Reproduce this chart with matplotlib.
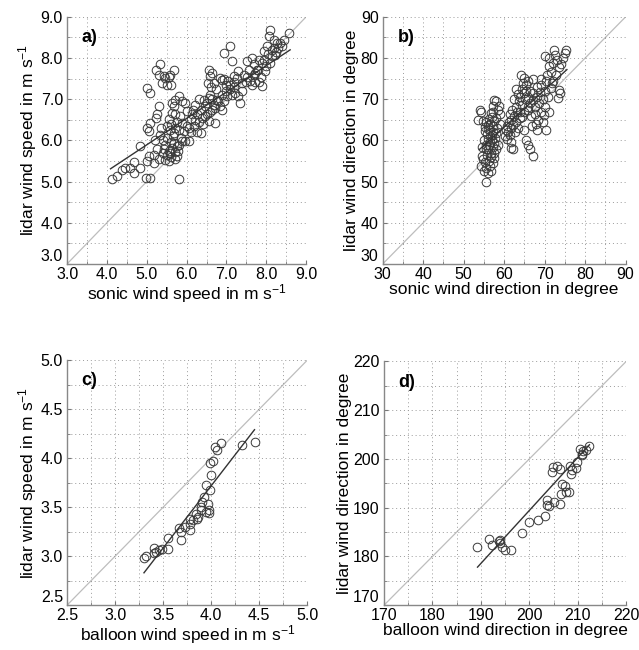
import numpy as np
import matplotlib
matplotlib.use("Agg")
import matplotlib.pyplot as plt
from matplotlib.ticker import MultipleLocator, FormatStrFormatter

plt.rcParams["font.family"] = ["Liberation Sans", "DejaVu Sans"]
plt.rcParams["mathtext.fontset"] = "custom"
plt.rcParams["mathtext.rm"] = "Liberation Sans"
plt.rcParams["mathtext.it"] = "Liberation Sans:italic"

# ── a) sonic vs lidar wind speed ────────────────────────────────────────────
a_sonic = [4.13, 4.26, 4.38, 4.46, 4.59, 4.67, 4.67, 4.84, 4.82, 4.98, 5.07, 5.01, 5.05,
           5.01, 5.07, 5.01, 5.05, 5.09, 5.18, 5.19, 5.22, 5.26, 5.30, 5.22, 5.34, 5.30,
           5.43, 5.47, 5.38, 5.51, 5.55, 5.59, 5.68, 5.62, 5.34, 5.40, 5.43, 5.47, 5.55,
           5.59, 5.64, 5.68, 5.72, 5.76, 5.80, 5.76, 5.68, 5.59, 5.51, 5.55, 5.64, 5.68,
           5.72, 5.64, 5.80, 5.72, 5.84, 5.89, 5.93, 5.89, 5.97, 6.05, 5.97, 5.89, 6.01,
           6.10, 6.14, 6.05, 6.18, 6.22, 6.26, 6.35, 6.39, 6.35, 6.43, 6.47, 6.51, 6.56,
           6.56, 6.60, 6.60, 6.56, 6.64, 6.68, 6.64, 6.72, 6.72, 6.77, 6.85, 6.89, 6.85,
           6.93, 7.10, 7.14, 6.98, 7.02, 7.10, 7.18, 7.18, 7.26, 7.30, 7.22, 7.30, 7.35,
           7.39, 7.48, 7.52, 7.57, 7.52, 7.65, 7.69, 7.65, 7.73, 7.77, 7.82, 7.90, 7.94,
           8.02, 8.06, 8.10, 8.19, 8.14, 8.22, 8.27, 8.35, 8.44, 8.56, 8.19, 8.10, 7.98,
           7.86, 7.82, 7.90, 7.73,
           5.55, 5.60, 5.65, 5.70, 5.75, 5.62, 5.70, 5.78, 5.82, 5.60, 5.50, 5.45, 5.85,
           5.80, 5.52, 5.40, 5.30, 5.25, 5.35, 5.20,
           6.20, 6.30, 6.45, 6.60, 6.70, 6.80, 6.90, 7.00, 7.10, 7.20, 6.40, 6.50, 6.65,
           6.95, 7.05, 7.15, 7.40, 7.45, 7.60, 7.70, 7.80, 7.95, 8.05, 8.15, 8.30, 8.40,
           8.25, 8.00, 6.25, 6.10, 6.00, 6.15, 6.30, 6.55, 6.62, 6.75, 6.90, 6.95]
a_lidar = [5.07, 5.13, 5.29, 5.33, 5.33, 5.47, 5.21, 5.33, 5.86, 5.09, 5.09, 5.49, 5.61,
           7.28, 7.15, 6.30, 6.22, 6.42, 5.45, 5.65, 6.55, 6.63, 6.83, 7.70, 7.85, 7.60,
           7.56, 7.51, 7.39, 7.35, 7.55, 7.60, 7.72, 7.35, 6.14, 6.02, 5.78, 5.53, 5.49,
           5.69, 5.82, 5.94, 5.73, 5.61, 5.07, 5.86, 6.18, 6.26, 6.34, 6.51, 6.67, 6.83,
           6.99, 6.91, 7.07, 6.63, 6.59, 6.42, 6.22, 5.98, 5.98, 5.98, 6.91, 6.95, 6.71,
           6.51, 6.63, 6.30, 6.34, 6.87, 6.63, 6.75, 6.55, 6.18, 6.99, 6.83, 6.63, 6.47,
           7.03, 7.11, 7.56, 7.72, 7.64, 7.39, 6.75, 6.79, 6.42, 6.99, 7.52, 7.47, 6.83,
           8.13, 8.29, 7.92, 7.35, 7.07, 7.35, 7.43, 7.56, 7.51, 7.68, 7.15, 7.07, 6.91,
           7.39, 7.43, 7.55, 7.72, 7.92, 8.00, 7.60, 7.35, 7.43, 7.72, 7.96, 7.88, 8.16,
           8.29, 8.53, 8.69, 8.45, 8.04, 8.08, 8.37, 8.37, 8.45, 8.61, 8.25, 7.88, 7.68,
           7.55, 7.43, 7.31, 7.64,
           5.75, 5.95, 6.10, 6.30, 6.45, 5.60, 5.55, 5.75, 5.90, 6.40, 6.05, 5.90, 6.05,
           6.25, 5.65, 5.70, 5.55, 5.80, 6.30, 6.00,
           6.50, 6.45, 6.60, 6.70, 6.85, 6.95, 7.10, 7.20, 7.25, 7.30, 6.40, 6.90, 7.00,
           6.95, 7.45, 7.10, 7.20, 7.60, 7.45, 7.85, 7.70, 7.95, 8.10, 8.20, 8.25, 8.30,
           8.15, 7.80, 6.20, 6.20, 6.35, 6.75, 7.00, 7.40, 7.30, 7.25, 6.75, 7.50]
a_fit_x = [4.09, 8.60]
a_fit_y = [5.31, 8.20]

# ── b) sonic vs lidar wind direction ────────────────────────────────────────
b_sonic = [54.0, 54.3, 53.6, 54.8, 55.2, 55.6, 54.6, 54.3, 54.9, 55.6, 56.0, 56.8, 57.2,
           57.6, 57.6, 58.1, 57.2, 56.8, 57.2, 57.6, 58.1, 58.5, 58.9, 58.9, 56.4, 56.0,
           55.0, 55.4, 55.8, 56.2, 56.6, 57.0, 56.5, 56.0, 55.5, 56.3, 57.5, 58.0, 57.8,
           57.3, 56.8, 56.3, 55.7, 55.2, 54.8, 55.6, 56.5, 57.5, 57.9, 58.4, 58.2, 57.0,
           56.6, 56.9, 56.1, 55.9, 55.3, 54.6, 57.3, 56.7, 57.2, 58.6,
           60.1, 60.6, 61.0, 61.4, 61.8, 61.2, 61.8, 62.2, 62.5, 62.0, 62.8, 63.2, 63.0,
           63.5, 62.6, 63.8, 63.6, 64.0, 63.4, 64.3, 64.6, 64.2, 65.0, 65.4, 64.8, 65.2,
           64.5, 64.0, 64.4, 65.0, 65.8, 65.5, 66.0, 65.8, 61.5, 60.8, 62.4, 63.0, 60.4,
           61.6, 62.3, 65.5, 65.9, 66.3, 67.1, 64.9, 61.8,
           66.0, 66.5, 67.1, 67.5, 68.0, 67.0, 66.6, 68.5, 68.8, 69.2, 69.0, 69.5, 70.0,
           70.3, 70.6, 71.0, 70.2, 71.2, 71.5, 72.0, 72.5, 72.0, 71.6, 70.8, 70.2, 69.8,
           68.4, 67.8, 66.8, 68.2, 70.4, 69.5, 71.0, 73.7, 73.2, 73.5, 72.8, 73.0, 74.0,
           74.5, 75.4, 75.0, 72.2, 73.5, 71.8, 69.0, 68.0, 67.2, 66.5, 67.6]
b_lidar = [67.5, 67.0, 65.0, 64.6, 62.2, 59.0, 56.2, 53.7, 52.5, 49.8, 52.1, 52.5, 54.5,
           57.0, 59.4, 61.8, 63.5, 66.7, 68.3, 69.9, 69.5, 67.5, 66.3, 63.9, 61.0, 57.8,
           60.0, 58.0, 56.5, 55.0, 59.5, 61.2, 62.5, 63.8, 64.5, 65.2, 64.8, 65.5, 60.5,
           58.3, 57.0, 58.8, 61.5, 54.8, 55.5, 53.3, 53.8, 55.8, 58.0, 59.0, 63.0, 65.8,
           64.0, 60.0, 60.4, 62.8, 63.2, 58.3, 62.0, 56.0, 66.9, 68.3,
           61.0, 60.4, 62.0, 61.2, 63.0, 64.5, 65.0, 63.8, 66.0, 67.5, 68.2, 66.8, 64.5,
           63.0, 62.0, 65.5, 69.5, 70.5, 71.2, 72.5, 74.0, 76.0, 75.2, 73.5, 71.5, 70.0,
           68.5, 67.0, 65.8, 66.8, 68.0, 72.0, 74.5, 70.5, 66.5, 63.5, 70.0, 72.5, 62.5,
           59.5, 57.8, 60.2, 59.0, 57.8, 56.3, 62.5, 58.2,
           67.5, 69.0, 69.9, 68.0, 70.5, 71.5, 66.0, 69.0, 71.8, 73.5, 67.0, 70.0, 72.0,
           74.5, 76.0, 78.0, 80.5, 80.0, 76.5, 78.8, 80.8, 74.5, 72.8, 70.5, 68.0, 66.2,
           65.0, 64.0, 63.5, 62.5, 62.6, 64.5, 67.0, 71.5, 70.2, 72.3, 76.0, 79.5, 78.5,
           80.0, 82.0, 81.2, 82.0, 77.8, 74.0, 75.0, 73.0, 74.8, 72.0, 66.5]
b_fit_x = [53.9, 75.5]
b_fit_y = [57.8, 77.2]

# ── c) balloon vs lidar wind speed ──────────────────────────────────────────
c_balloon = [3.30, 3.32, 3.40, 3.40, 3.43, 3.46, 3.49, 3.55, 3.55, 3.66, 3.69, 3.69, 3.73,
             3.78, 3.78, 3.78, 3.81, 3.85, 3.86, 3.84, 3.89, 3.89, 3.90, 3.92, 3.95, 3.97,
             3.98, 3.98, 3.99, 3.95, 4.00, 3.99, 4.02, 4.04, 4.06, 4.10, 4.32, 4.45]
c_lidar = [2.98, 3.00, 3.08, 3.03, 3.04, 3.06, 3.07, 3.07, 3.19, 3.29, 3.25, 3.16, 3.30,
           3.27, 3.33, 3.38, 3.37, 3.38, 3.40, 3.43, 3.47, 3.50, 3.55, 3.60, 3.45, 3.53,
           3.44, 3.47, 3.67, 3.73, 3.83, 3.95, 3.97, 4.11, 4.08, 4.15, 4.13, 4.16]
c_fit_x = [3.30, 4.45]
c_fit_y = [2.83, 4.29]

# ── d) balloon vs lidar wind direction ──────────────────────────────────────
d_balloon = [189.1, 191.7, 192.2, 193.8, 194.0, 194.0, 194.3, 194.9, 196.2, 198.4, 200.0,
             201.7, 203.2, 203.6, 203.6, 204.0, 204.6, 204.8, 205.0, 205.8, 206.3, 206.4,
             206.5, 206.7, 207.3, 207.6, 208.4, 208.1, 208.5, 208.9, 209.7, 209.8, 210.4,
             210.9, 211.1, 210.9, 211.6, 212.3]
d_lidar = [181.9, 183.6, 182.3, 183.2, 182.8, 183.4, 181.9, 181.3, 181.4, 184.9, 187.1,
           187.5, 188.3, 191.6, 190.6, 190.4, 197.3, 198.3, 191.1, 198.6, 190.8, 198.0,
           192.7, 194.9, 194.4, 193.3, 198.6, 193.3, 196.8, 197.7, 198.2, 199.4, 202.1,
           201.0, 201.6, 200.7, 201.8, 202.7]
d_fit_x = [189.3, 212.4]
d_fit_y = [177.8, 202.9]

PANELS = [
    dict(x=a_sonic, y=a_lidar, fx=a_fit_x, fy=a_fit_y, lim=(3.0, 9.0), major=1.0, minor=0.5,
         fmt="%.1f", tag="a)", xlabel="sonic wind speed in m s$^{-1}$",
         ylabel="lidar wind speed in m s$^{-1}$", rect=[0.105, 0.594, 0.374, 0.380]),
    dict(x=b_sonic, y=b_lidar, fx=b_fit_x, fy=b_fit_y, lim=(30, 90), major=10, minor=5,
         fmt="%d", tag="b)", xlabel="sonic wind direction in degree",
         ylabel="lidar wind direction in degree", rect=[0.599, 0.594, 0.380, 0.380]),
    dict(x=c_balloon, y=c_lidar, fx=c_fit_x, fy=c_fit_y, lim=(2.5, 5.0), major=0.5, minor=0.25,
         fmt="%.1f", tag="c)", xlabel="balloon wind speed in m s$^{-1}$",
         ylabel="lidar wind speed in m s$^{-1}$", rect=[0.105, 0.069, 0.376, 0.377]),
    dict(x=d_balloon, y=d_lidar, fx=d_fit_x, fy=d_fit_y, lim=(170, 220), major=10, minor=5,
         fmt="%d", tag="d)", xlabel="balloon wind direction in degree",
         ylabel="lidar wind direction in degree", rect=[0.601, 0.069, 0.379, 0.375]),
]

fig = plt.figure(figsize=(6.39, 6.5), dpi=100, facecolor="white")
axes = []

for p in PANELS:
    ax = fig.add_axes(p["rect"])
    axes.append((ax, p["lim"][0]))
    lo, hi = p["lim"]
    # 1:1 line
    ax.plot([lo, hi], [lo, hi], color="#bdbdbd", lw=0.9, zorder=1)
    ax.plot(p["x"], p["y"], "o", ms=6.2, mfc="none", mec="#3a3a3a", mew=0.7, zorder=3)
    ax.plot(p["fx"], p["fy"], color="#333333", lw=1.0, zorder=4)

    ax.set_xlim(lo, hi)
    ax.set_ylim(lo, hi)
    for axis in (ax.xaxis, ax.yaxis):
        axis.set_major_locator(MultipleLocator(p["major"]))
        axis.set_minor_locator(MultipleLocator(p["minor"]))
        axis.set_major_formatter(FormatStrFormatter(p["fmt"]))
    ax.grid(True, which="both", linestyle=(0, (1, 3)), color="#9a9a9a", lw=0.7)
    ax.tick_params(which="both", direction="in", length=3, color="#777777",
                   labelsize=11.5, top=False, right=False)
    ax.tick_params(axis="x", pad=2)
    ax.tick_params(axis="y", pad=3)
    ax.tick_params(which="minor", length=2)
    for side in ("top", "right"):
        ax.spines[side].set_visible(False)
    for side in ("left", "bottom"):
        ax.spines[side].set_color("#888888")
        ax.spines[side].set_linewidth(1.0)

    ax.set_xlabel(p["xlabel"], fontsize=12.5, labelpad=0)
    ax.set_ylabel(p["ylabel"], fontsize=12.5, labelpad=1)
    ax.text(0.06, 0.95, p["tag"], transform=ax.transAxes, fontsize=13,
            fontweight="bold", ha="left", va="top", zorder=5)

# lift the lowest y tick label so it clears the first x tick label
fig.canvas.draw()
for ax, lo in axes:
    for tick in ax.yaxis.get_major_ticks():
        if abs(tick.get_loc() - lo) < 1e-6:
            tick.label1.set_verticalalignment("bottom")

plt.savefig("out.png", dpi=100, facecolor="white")
plt.close()
